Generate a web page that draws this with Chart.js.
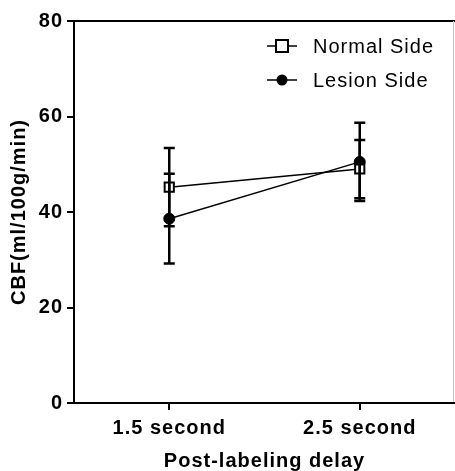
<!DOCTYPE html>
<html>
<head>
<meta charset="utf-8">
<script src="https://cdn.jsdelivr.net/npm/chart.js@4/dist/chart.umd.min.js"></script>
<style>
  html, body { margin: 0; padding: 0; background: #fff; }
  #wrap { width: 455px; height: 471px; }
</style>
</head>
<body>
<div id="wrap"><canvas id="cbfChart" width="455" height="471"></canvas></div>
<script>
const categories = ["1.5 second", "2.5 second"];
const normalMean = [45.2, 49.0];
const normalErr = [8.2, 6.1];
const lesionMean = [38.6, 50.5];
const lesionErr = [9.4, 8.2];
const yTicks = [0, 20, 40, 60, 80];

const FONT = "'Liberation Sans', Arial, sans-serif";
const SIZE = 20;
const SPACING = "1px";

// canvas text in the reference is a bit wider than plain Arial
const spacingPlugin = {
  id: "spacing",
  beforeUpdate(chart) { chart.ctx.letterSpacing = SPACING; },
  beforeDraw(chart) { chart.ctx.letterSpacing = SPACING; },
};

const errorBars = {
  id: "errorBars",
  afterDatasetsDraw(chart) {
    const ctx = chart.ctx;
    const y = chart.scales.y;
    const sets = [[normalMean, normalErr], [lesionMean, lesionErr]];
    ctx.save();
    ctx.strokeStyle = "#000";
    ctx.lineWidth = 2.5;
    sets.forEach(([mean, err], di) => {
      const meta = chart.getDatasetMeta(di);
      meta.data.forEach((pt, i) => {
        const hi = y.getPixelForValue(mean[i] + err[i]);
        const lo = y.getPixelForValue(mean[i] - err[i]);
        ctx.beginPath();
        ctx.moveTo(pt.x, hi);
        ctx.lineTo(pt.x, lo);
        ctx.moveTo(pt.x - 5.5, hi);
        ctx.lineTo(pt.x + 5.5, hi);
        ctx.moveTo(pt.x - 5.5, lo);
        ctx.lineTo(pt.x + 5.5, lo);
        ctx.stroke();
      });
    });
    ctx.restore();
  },
};

const frame = {
  id: "frame",
  afterDraw(chart) {
    const { ctx, chartArea } = chart;
    ctx.save();
    ctx.strokeStyle = "#000";
    ctx.lineWidth = 2;
    ctx.beginPath();
    ctx.moveTo(chartArea.left - 1, chartArea.top);
    ctx.lineTo(455, chartArea.top);
    ctx.stroke();
    ctx.strokeStyle = "#c8c8c8";
    ctx.lineWidth = 1;
    ctx.beginPath();
    ctx.moveTo(453.5, chartArea.top);
    ctx.lineTo(453.5, chartArea.bottom - 1);
    ctx.stroke();
    ctx.restore();
  },
};

const insideLegend = {
  id: "insideLegend",
  afterDraw(chart) {
    const ctx = chart.ctx;
    ctx.save();
    ctx.letterSpacing = "1px";
    chart.data.datasets.forEach((ds, i) => {
      const cy = 46 + i * 34;
      ctx.strokeStyle = "#000";
      ctx.lineWidth = 1.5;
      ctx.beginPath();
      ctx.moveTo(267, cy);
      ctx.lineTo(297, cy);
      ctx.stroke();
      ctx.lineWidth = 2;
      if (ds.pointStyle === "rect") {
        ctx.fillStyle = "#fff";
        ctx.fillRect(276, cy - 6, 12, 12);
        ctx.strokeRect(276, cy - 6, 12, 12);
      } else {
        ctx.fillStyle = "#000";
        ctx.beginPath();
        ctx.arc(282, cy, 5.5, 0, Math.PI * 2);
        ctx.fill();
      }
      ctx.fillStyle = "#000";
      ctx.font = `${SIZE}px ${FONT}`;
      ctx.textBaseline = "middle";
      ctx.textAlign = "left";
      ctx.fillText(ds.label, 313, cy + 1);
    });
    ctx.restore();
  },
};

new Chart(document.getElementById("cbfChart"), {
  type: "line",
  data: {
    labels: categories,
    datasets: [
      {
        label: "Normal Side",
        data: normalMean,
        borderColor: "#000",
        borderWidth: 1.5,
        pointStyle: "rect",
        pointRadius: 6.5,
        pointBackgroundColor: "#fff",
        pointBorderColor: "#000",
        pointBorderWidth: 2,
      },
      {
        label: "Lesion Side",
        data: lesionMean,
        borderColor: "#000",
        borderWidth: 1.5,
        pointStyle: "circle",
        pointRadius: 5.5,
        pointBackgroundColor: "#000",
        pointBorderColor: "#000",
        pointBorderWidth: 1,
      },
    ],
  },
  options: {
    responsive: false,
    animation: false,
    devicePixelRatio: 1,
    layout: { autoPadding: false, padding: { top: 21, right: 0, left: 0, bottom: 0 } },
    plugins: { legend: { display: false }, tooltip: { enabled: false } },
    scales: {
      x: {
        type: "category",
        offset: true,
        afterFit: (s) => { s.height = 68; },
        grid: { offset: false, drawOnChartArea: false, tickLength: 7, color: "#000", lineWidth: 2 },
        border: { color: "#000", width: 2 },
        ticks: { color: "#000", padding: 6, font: { family: FONT, size: SIZE, weight: "bold" } },
        title: {
          display: true,
          text: "Post-labeling delay",
          color: "#000",
          padding: { top: 0, bottom: 0 },
          font: { family: FONT, size: SIZE, weight: "bold", lineHeight: 1.0 },
        },
      },
      y: {
        min: 0,
        max: 80,
        afterFit: (s) => { s.width = 74; },
        afterBuildTicks: (s) => { s.ticks = yTicks.map((v) => ({ value: v })); },
        grid: { drawOnChartArea: false, tickLength: 7, color: "#000", lineWidth: 2 },
        border: { color: "#000", width: 2 },
        ticks: { color: "#000", padding: 4, font: { family: FONT, size: SIZE, weight: "bold" } },
        title: {
          display: true,
          text: "CBF(ml/100g/min)",
          color: "#000",
          padding: { top: 7, bottom: 0 },
          font: { family: FONT, size: SIZE, weight: "bold" },
        },
      },
    },
  },
  plugins: [spacingPlugin, errorBars, frame, insideLegend],
});
</script>
</body>
</html>
